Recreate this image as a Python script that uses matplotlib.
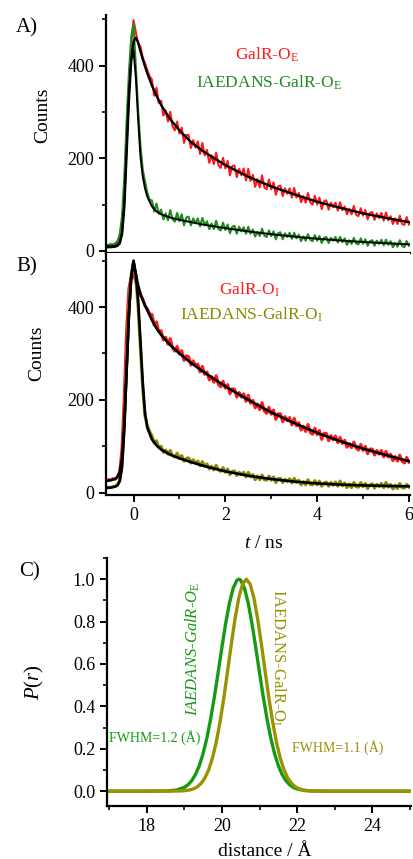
import numpy as np
import matplotlib
matplotlib.use('Agg')
import matplotlib.pyplot as plt
from matplotlib.ticker import MultipleLocator, FormatStrFormatter

plt.rcParams['font.family'] = ['Liberation Serif', 'DejaVu Serif']
plt.rcParams['mathtext.fontset'] = 'custom'
plt.rcParams['mathtext.rm'] = 'Liberation Serif'
plt.rcParams['mathtext.it'] = 'Liberation Serif:italic'

# decay traces, 0.05 ns channels starting at -0.6 ns
t0, dt = -0.6, 0.05
redA = [10, 13, 11, 14, 12, 16, 22, 45, 115, 235,
        355, 445, 498, 472, 448, 441, 418, 405, 390, 377,
        370, 335, 352, 319, 324, 292, 303, 279, 300, 269,
        260, 279, 253, 266, 233, 250, 250, 222, 239, 223,
        236, 209, 233, 206, 218, 190, 206, 187, 212, 185,
        179, 201, 178, 194, 163, 183, 184, 159, 177, 163,
        178, 152, 177, 151, 164, 138, 155, 137, 163, 137,
        133, 154, 133, 148, 121, 139, 141, 118, 135, 123,
        135, 115, 136, 115, 125, 105, 118, 104, 125, 105,
        100, 119, 100, 115, 90, 107, 109, 89, 104, 94,
        104, 87, 105, 88, 96, 79, 91, 79, 97, 78,
        75, 92, 76, 88, 68, 82, 84, 67, 81, 71,
        82, 65, 83, 66, 75, 58, 70, 58, 76, 58,
        56, 73, 57]
greenA = [14, 12, 15, 13, 16, 21, 36, 75, 160, 280,
          385, 462, 490, 398, 305, 228, 176, 150, 126, 110,
          109, 85, 102, 80, 89, 68, 81, 66, 88, 68,
          63, 82, 64, 79, 55, 72, 74, 55, 70, 60,
          70, 53, 71, 55, 64, 47, 59, 47, 65, 47,
          44, 61, 45, 57, 38, 52, 54, 37, 52, 42,
          51, 37, 52, 37, 46, 31, 41, 32, 48, 33,
          30, 44, 32, 42, 25, 38, 40, 25, 38, 30,
          39, 26, 39, 27, 35, 21, 31, 22, 36, 24,
          21, 34, 22, 32, 17, 28, 30, 17, 28, 22,
          30, 18, 30, 19, 27, 13, 23, 15, 28, 16,
          14, 27, 15, 25, 11, 21, 23, 11, 22, 15,
          24, 12, 24, 13, 21, 8, 17, 9, 23, 11,
          8, 21, 11]
redB = [26, 28, 27, 30, 29, 33, 45, 95, 210, 350,
        440, 465, 470, 455, 440, 425, 418, 402, 396, 385,
        384, 361, 368, 347, 349, 329, 335, 320, 332, 312,
        305, 315, 299, 306, 285, 295, 293, 275, 284, 274,
        277, 260, 272, 255, 260, 243, 250, 238, 252, 233,
        228, 240, 225, 233, 213, 224, 223, 206, 216, 206,
        213, 197, 210, 193, 199, 183, 191, 179, 194, 176,
        171, 184, 169, 178, 158, 170, 170, 153, 164, 155,
        162, 146, 160, 144, 151, 135, 143, 132, 147, 130,
        126, 139, 125, 134, 115, 128, 128, 112, 123, 114,
        122, 108, 119, 106, 113, 98, 106, 97, 109, 96,
        92, 104, 91, 100, 84, 94, 94, 81, 91, 83,
        91, 77, 89, 77, 83, 69, 78, 68, 81, 68,
        64, 76, 66]
oliveB = [11, 12, 11, 13, 14, 17, 26, 60, 150, 280,
          395, 470, 495, 462, 400, 310, 225, 165, 145, 132,
          123, 107, 112, 98, 100, 87, 92, 83, 91, 80,
          77, 85, 74, 80, 68, 74, 75, 64, 71, 64,
          68, 58, 67, 57, 62, 51, 57, 49, 59, 49,
          46, 54, 44, 51, 39, 46, 47, 37, 44, 39,
          44, 34, 44, 34, 39, 28, 36, 28, 38, 28,
          27, 36, 27, 34, 22, 30, 31, 22, 29, 24,
          30, 21, 31, 22, 27, 17, 24, 17, 28, 18,
          17, 26, 17, 25, 14, 21, 23, 14, 22, 16,
          23, 14, 25, 15, 21, 11, 19, 11, 22, 13,
          12, 22, 13, 20, 9, 17, 19, 10, 18, 13,
          20, 11, 22, 12, 18, 8, 16, 9, 20, 11,
          10, 18, 12]

# fitted curves
fit_t = [-0.6, -0.5, -0.4, -0.35, -0.3, -0.25, -0.2, -0.15, -0.1, -0.05, 0.0,
         0.05, 0.1, 0.15, 0.2, 0.25, 0.3, 0.4, 0.5, 0.6, 0.8, 1.0, 1.25, 1.5,
         2.0, 2.5, 3.0, 3.5, 4.0, 4.5, 5.0, 5.5, 6.0]
fit_redA = [8, 8, 9, 11, 16, 36, 95, 210, 325, 410, 452, 460, 450, 431, 414, 398,
            383, 357, 335, 315, 284, 260, 235, 216, 185, 160, 139, 122, 106, 93,
            81, 71, 62]
fit_greenA = [10, 10, 11, 13, 19, 40, 105, 225, 340, 415, 432, 375, 285, 205, 161,
              135, 117, 96, 85, 79, 72, 67, 62, 57, 49, 42, 36, 30.7, 26.2, 22.4,
              19.2, 16.4, 14.1]
fit_redB = [25, 27, 30, 34, 45, 75, 150, 265, 385, 465, 498, 472, 447, 429, 415, 404,
            393, 372, 354, 340, 318, 300, 280, 262, 229, 200, 173, 150, 129, 111,
            95, 81, 68]
fit_oliveB = [10, 11, 13, 16, 25, 55, 140, 265, 385, 465, 500, 470, 415, 330, 240,
              172, 140, 115, 102, 93, 82, 74, 66, 58.5, 46, 36.5, 29.5, 24, 20,
              17.5, 15.8, 14.6, 13.8]

# distance distributions
r_E = [17.0, 18.0, 18.5, 18.8, 19.0, 19.1, 19.2, 19.3, 19.4, 19.5, 19.6, 19.7,
       19.8, 19.9, 20.0, 20.1, 20.2, 20.3, 20.4, 20.45, 20.5, 20.6, 20.7, 20.8,
       20.9, 21.0, 21.1, 21.2, 21.3, 21.4, 21.5, 21.6, 21.7, 21.8, 21.9, 22.0,
       22.2, 22.4, 22.8, 23.0, 25.0]
P_E = [0.0, 0.0, 0.0007, 0.0053, 0.0176, 0.0301, 0.0496, 0.0787, 0.1201, 0.1764,
       0.2494, 0.3391, 0.4439, 0.5591, 0.6776, 0.7902, 0.8868, 0.9577, 0.9952, 1.0,
       0.9952, 0.9577, 0.8868, 0.7902, 0.6776, 0.5591, 0.4439, 0.3391, 0.2494,
       0.1764, 0.1201, 0.0787, 0.0496, 0.0301, 0.0176, 0.0099, 0.0028, 0.0007,
       0.0, 0.0, 0.0]
r_I = [17.0, 18.0, 18.65, 18.95, 19.15, 19.25, 19.35, 19.45, 19.55, 19.65, 19.75,
       19.85, 19.95, 20.05, 20.15, 20.25, 20.35, 20.45, 20.55, 20.65, 20.75, 20.85,
       20.95, 21.05, 21.15, 21.25, 21.35, 21.45, 21.55, 21.65, 21.75, 21.85, 21.95,
       22.05, 22.15, 22.35, 22.65, 23.0, 25.0]
P_I = [0.0, 0.0, 0.0001, 0.0013, 0.0058, 0.0112, 0.0208, 0.0368, 0.0624, 0.1010,
       0.1561, 0.2306, 0.3252, 0.4381, 0.5638, 0.6929, 0.8135, 0.9124, 0.9773, 1.0,
       0.9773, 0.9124, 0.8135, 0.6929, 0.5638, 0.4381, 0.3252, 0.2306, 0.1561,
       0.1010, 0.0624, 0.0368, 0.0208, 0.0112, 0.0058, 0.0013, 0.0001, 0.0, 0.0]

c_red = '#ff1a1a'
c_green = '#1e8c1e'
c_olive = '#8a8a00'
c_green2 = '#159a15'
c_olive2 = '#9a9200'


def channels(vals):
    return t0 + dt * np.arange(len(vals))


def style(ax):
    for s in ['top', 'right']:
        ax.spines[s].set_visible(False)
    for s in ['left', 'bottom']:
        ax.spines[s].set_linewidth(1.6)
    ax.tick_params(which='major', direction='out', length=5, width=1.4, labelsize=13)
    ax.tick_params(which='minor', direction='out', length=3, width=1.2)


fig = plt.figure(figsize=(4.14, 8.59), dpi=100)

# panel A
ax = fig.add_axes([0.256, 0.7058, 0.734, 0.2767])
ax.plot(channels(redA), redA, color=c_red, lw=1.5)
ax.plot(channels(greenA), greenA, color=c_green, lw=1.5)
ax.plot(fit_t, fit_redA, color='k', lw=1.7)
ax.plot(fit_t, fit_greenA, color='k', lw=1.4)
ax.set_xlim(-0.6, 6.02)
ax.set_ylim(-4, 509)
style(ax)
ax.set_xticks([])
ax.yaxis.set_major_locator(MultipleLocator(200))
ax.yaxis.set_minor_locator(MultipleLocator(100))
ax.set_ylabel('Counts', fontsize=14)
ax.yaxis.set_label_coords(-0.18, 0.58)
ax.text(2.91, 423, 'GalR-O$_\\mathrm{E}$', color=c_red, fontsize=12.5, ha='center', va='center')
ax.text(2.96, 363, 'IAEDANS-GalR-O$_\\mathrm{E}$', color=c_green, fontsize=12.5, ha='center', va='center')

# panel B
bx = fig.add_axes([0.256, 0.4237, 0.734, 0.2821])
bx.plot(channels(redB), redB, color=c_red, lw=2.2)
bx.plot(channels(oliveB), oliveB, color=c_olive, lw=2.2)
bx.plot(fit_t, fit_redB, color='k', lw=1.9)
bx.plot(fit_t, fit_oliveB, color='k', lw=1.9)
bx.set_xlim(-0.6, 6.02)
bx.set_ylim(-5, 517)
style(bx)
bx.xaxis.set_major_locator(MultipleLocator(2))
bx.xaxis.set_minor_locator(MultipleLocator(1))
bx.yaxis.set_major_locator(MultipleLocator(200))
bx.yaxis.set_minor_locator(MultipleLocator(100))
bx.set_ylabel('Counts', fontsize=14)
bx.yaxis.set_label_coords(-0.2, 0.585)
bx.set_xlabel('$t$ / ns', fontsize=14)
bx.xaxis.set_label_coords(0.52, -0.165)
bx.text(2.52, 438, 'GalR-O$_\\mathrm{I}$', color=c_red, fontsize=12.5, ha='center', va='center')
bx.text(2.57, 384, 'IAEDANS-GalR-O$_\\mathrm{I}$', color=c_olive, fontsize=12.5, ha='center', va='center')

# panel C
cx = fig.add_axes([0.2585, 0.0617, 0.734, 0.2887])
cx.plot(r_E, P_E, color=c_green2, lw=2.4)
cx.plot(r_I, P_I, color=c_olive2, lw=2.4)
cx.set_xlim(16.95, 25.02)
cx.set_ylim(-0.07, 1.10)
style(cx)
cx.xaxis.set_major_locator(MultipleLocator(2))
cx.xaxis.set_minor_locator(MultipleLocator(1))
cx.yaxis.set_major_locator(MultipleLocator(0.2))
cx.yaxis.set_minor_locator(MultipleLocator(0.1))
cx.yaxis.set_major_formatter(FormatStrFormatter('%.1f'))
cx.set_ylabel('$P(r)$', fontsize=15)
cx.yaxis.set_label_coords(-0.2, 0.5)
cx.set_xlabel('distance / Å', fontsize=14)
cx.xaxis.set_label_coords(0.52, -0.15)
cx.text(19.23, 0.67, 'IAEDANS-GalR-O$_\\mathrm{E}$', color=c_green2, fontsize=12,
        style='italic', rotation=90, ha='center', va='center')
cx.text(21.49, 0.633, 'IAEDANS-GalR-O$_\\mathrm{I}$', color=c_olive2, fontsize=12,
        rotation=-90, ha='center', va='center')
cx.text(18.22, 0.255, 'FWHM=1.2 (Å)', color=c_green2, fontsize=10, ha='center', va='center')
cx.text(23.08, 0.208, 'FWHM=1.1 (Å)', color=c_olive2, fontsize=10, ha='center', va='center')

fig.text(27 / 414, 1 - 28 / 859, 'A)', fontsize=15, ha='center', va='center')
fig.text(27 / 414, 1 - 267 / 859, 'B)', fontsize=15, ha='center', va='center')
fig.text(30 / 414, 1 - 572 / 859, 'C)', fontsize=15, ha='center', va='center')

fig.savefig('out.png', dpi=100)
